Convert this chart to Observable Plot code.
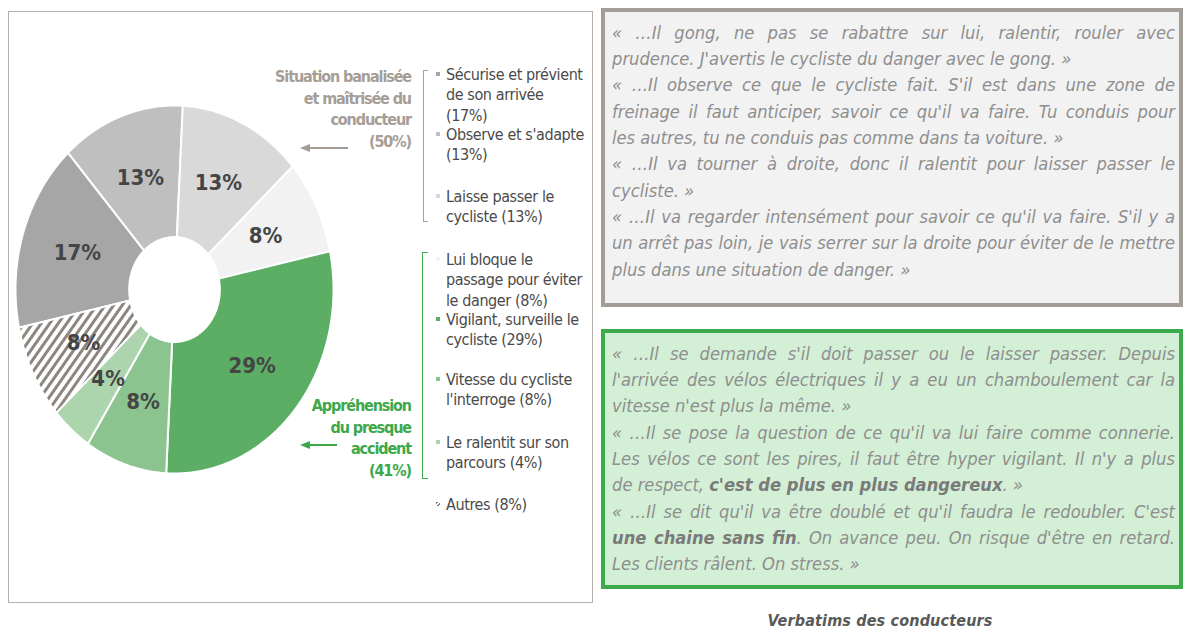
<!DOCTYPE html>
<html><head><meta charset="utf-8">
<script src="https://cdn.jsdelivr.net/npm/d3@7"></script>
<script src="https://cdn.jsdelivr.net/npm/@observablehq/plot@0.6"></script>
<style>
body{margin:0;width:1184px;height:631px;position:relative;overflow:hidden;background:#fff;}
.qline{position:absolute;left:0;white-space:nowrap;color:#8e8e8e;font-style:italic;}
.qline.j{text-align:justify;text-align-last:justify;}
.qline b{color:#7a7a7a;}
</style></head><body>
<div id="root"></div>
<script>
// ---------- DATA ----------
const categories = ["Sécurise et prévient de son arrivée","Observe et s'adapte","Laisse passer le cycliste","Lui bloque le passage pour éviter le danger","Vigilant, surveille le cycliste","Vitesse du cycliste l'interroge","Le ralentit sur son parcours","Autres"];
const counts = [4, 3, 3, 2, 7, 2, 1, 2];
const sliceColors = ["#a6a6a6","#bfbfbf","#d9d9d9","#f2f2f2","#5bae63","#8cc48f","#acd5ad","url(#hatch)"];
const legendLines = [["Sécurise et prévient","de son arrivée","(17%)"],["Observe et s'adapte","(13%)"],["Laisse passer le","cycliste (13%)"],["Lui bloque le","passage pour éviter","le danger (8%)"],["Vigilant, surveille le","cycliste (29%)"],["Vitesse du cycliste","l'interroge (8%)"],["Le ralentit sur son","parcours (4%)"],["Autres (8%)"]];
const groupLabels = [["Situation banalisée","et maîtrisée du","conducteur","(50%)"],["Appréhension","du presque","accident","(41%)"]];
const greyQuotes = [
 ["« …Il gong, ne pas se rabattre sur lui, ralentir, rouler avec","prudence. J'avertis le cycliste du danger avec le gong. »"],
 ["« …Il observe ce que le cycliste fait. S'il est dans une zone de","freinage il faut anticiper, savoir ce qu'il va faire. Tu conduis pour","les autres, tu ne conduis pas comme dans ta voiture. »"],
 ["« …Il va tourner à droite, donc il ralentit pour laisser passer le","cycliste. »"],
 ["« …Il va regarder intensément pour savoir ce qu'il va faire. S'il y a","un arrêt pas loin, je vais serrer sur la droite pour éviter de le mettre","plus dans une situation de danger. »"]
];
const greenQuotes = [
 ["« …Il se demande s'il doit passer ou le laisser passer. Depuis","l'arrivée des vélos électriques il y a eu un chamboulement car la","vitesse n'est plus la même. »"],
 ["« …Il se pose la question de ce qu'il va lui faire comme connerie.","Les vélos ce sont les pires, il faut être hyper vigilant. Il n'y a plus","de respect, **c'est de plus en plus dangereux**. »"],
 ["« …Il se dit qu'il va être doublé et qu'il faudra le redoubler. C'est","**une chaine sans fin**. On avance peu. On risque d'être en retard.","Les clients râlent. On stress. »"]
];
const caption = "Verbatims des conducteurs";

// ---------- FONTS ----------
const ctx = document.createElement("canvas").getContext("2d");
function has(f){const s="abcdefghijklmnopqrstuvwxyzABCDEFGH0123456789";ctx.font="20px monospace";const w0=ctx.measureText(s).width;ctx.font=`20px "${f}", monospace`;return Math.abs(ctx.measureText(s).width-w0)>0.5;}
const narrowName = ["Liberation Sans Narrow","Arial Narrow","DejaVu Sans Condensed"].find(has) || "Liberation Sans";
const NARROW = `"${narrowName}", "Liberation Sans", sans-serif`;
function measure(text, font){ctx.font = font; return ctx.measureText(text).width;}

const root = document.getElementById("root");
function el(tag, style, html, parent=root){const e=document.createElement(tag);e.setAttribute("style",style);if(html!=null)e.innerHTML=html;parent.appendChild(e);return e;}

// ---------- LEFT PANEL ----------
el("div","position:absolute;left:8px;top:11px;width:585px;height:592px;border:1.5px solid #b5afaa;box-sizing:border-box;");

const total = d3.sum(counts);
const start = 258 * Math.PI / 180;
const rows = categories.map((c,i)=>({cat:c,count:counts[i],fillColor:sliceColors[i]}));
const arcs = d3.pie().sort(null).value(d=>d.count).startAngle(start).endAngle(start+2*Math.PI)(rows);
const rIn = 0.285, rMid = (rIn+1)/2;
const pts = arcs.flatMap((a,i)=>{
  const n = Math.max(4, Math.ceil((a.endAngle-a.startAngle)/0.01)); const out=[];
  for(let k=0;k<=n;k++){const t=a.startAngle+(a.endAngle-a.startAngle)*k/n; out.push({i,fillColor:a.data.fillColor,x:Math.sin(t),y:Math.cos(t)});}
  for(let k=n;k>=0;k--){const t=a.startAngle+(a.endAngle-a.startAngle)*k/n; out.push({i,fillColor:a.data.fillColor,x:rIn*Math.sin(t),y:rIn*Math.cos(t)});}
  return out;
});
const mid = a => (a.startAngle+a.endAngle)/2;
const chart = Plot.plot({
  width: 600, height: 631, margin: 0,
  x: {domain: [-1,1], range: [15,333], axis: null},
  y: {domain: [-1,1], range: [473,105], axis: null},
  color: {type: "identity"},
  style: {background: "transparent"},
  marks: [
    Plot.line(pts, {x:"x", y:"y", z:"i", fill:"fillColor", stroke:"#fff", strokeWidth:2, strokeLinejoin:"round", curve:"linear-closed"}),
    Plot.text(arcs, {x: a=>rMid*Math.sin(mid(a)), y: a=>rMid*Math.cos(mid(a)), text: a=>Math.round(a.data.count/total*100)+"%", fontSize: 22, fontWeight: "bold", fill: "#454545", fontFamily: NARROW})
  ]
});
const defs = d3.select(chart).insert("defs", ":first-child");
const pat = defs.append("pattern").attr("id","hatch").attr("patternUnits","userSpaceOnUse").attr("width",7).attr("height",7).attr("patternTransform","rotate(35)");
pat.append("rect").attr("width",7).attr("height",7).attr("fill","#fff");
pat.append("rect").attr("width",3).attr("height",7).attr("fill","#8c8681");
const holder = el("div","position:absolute;left:0;top:0;width:600px;height:631px;");
holder.appendChild(chart);

// legend
const legendY = [75,135,197,260,320,380,443,505];
const lh = 20.5;
const fsL = 16;
const lsL = (137 - measure("Sécurise et prévient", `${fsL}px ${NARROW}`))/19;
legendLines.forEach((lines,i)=>{
  const y0 = legendY[i];
  const c = sliceColors[i];
  const bg = c.startsWith("url") ? "repeating-linear-gradient(135deg,#8c8681 0 1.5px,#fff 1.5px 3px)" : c;
  el("div",`position:absolute;left:436px;top:${y0-3.5}px;width:4px;height:4px;background:${bg};`);
  lines.forEach((t,k)=>{
    el("div",`position:absolute;left:446px;top:${y0+k*lh-lh/2}px;height:${lh}px;line-height:${lh}px;font:${fsL}px ${NARROW};letter-spacing:${lsL}px;color:#4a4a4a;white-space:nowrap;`, t);
  });
});
// brackets
el("div","position:absolute;left:423px;top:70px;width:5px;height:152px;border:1.5px solid #a8a19b;border-right:none;box-sizing:border-box;");
el("div","position:absolute;left:422px;top:252px;width:6px;height:227px;border:1.5px solid #3daa4b;border-right:none;box-sizing:border-box;");
// group labels
const fsG = 16;
const lsG = (137 - measure("Situation banalisée", `bold ${fsG}px ${NARROW}`))/18;
const groupColors = ["#a59d96","#3ca84a"], groupY = [78,407], glh = 21.4;
groupLabels.forEach((lines,g)=>{
  lines.forEach((t,k)=>{
    el("div",`position:absolute;right:${1184-411}px;top:${groupY[g]+k*glh-glh/2}px;line-height:${glh}px;font:bold ${fsG}px ${NARROW};letter-spacing:${lsG}px;color:${groupColors[g]};white-space:nowrap;text-align:right;`, t);
  });
});
// arrows
function arrow(x0,x1,y,color){
  el("div",`position:absolute;left:${x0+8}px;top:${y-1}px;width:${x1-x0-8}px;height:2px;background:${color};`);
  el("div",`position:absolute;left:${x0}px;top:${y-4.5}px;width:0;height:0;border-top:4.5px solid transparent;border-bottom:4.5px solid transparent;border-right:10px solid ${color};`);
}
arrow(300,348,148,"#a39c96");
arrow(300,337,445,"#3ca84a");

// ---------- QUOTE BOXES ----------
el("div","position:absolute;left:601px;top:8px;width:582px;height:299px;border:4px solid #a39d98;background:#f2f2f2;box-sizing:border-box;");
el("div","position:absolute;left:601px;top:329px;width:582px;height:260px;border:4px solid #3dab4b;background:#d3efd5;box-sizing:border-box;");
const fsQ = 18;
const qFont = `italic ${fsQ}px ${NARROW}`;
const plain = t => t.replace(/\*\*/g,"");
const justW = [...greyQuotes, ...greenQuotes].flatMap(p => p.slice(0,-1)).map(t => measure(plain(t), qFont));
const sx = 557 / d3.max(justW);
const qW = 563 / sx, qlh = 26.3;
function quoteBox(paras, top){
  const box = el("div",`position:absolute;left:612px;top:${top}px;width:${qW}px;transform:scaleX(${sx});transform-origin:0 0;font:${qFont};`);
  let k=0;
  paras.forEach(lines=>lines.forEach((t,j)=>{
    const html = t.replace(/\*\*(.+?)\*\*/g,"<b>$1</b>");
    const d = el("div",`top:${k*qlh}px;width:${qW}px;height:${qlh}px;line-height:${qlh}px;`, html, box);
    d.className = "qline" + (j<lines.length-1 ? " j" : "");
    k++;
  }));
}
quoteBox(greyQuotes, 33-qlh/2);
quoteBox(greenQuotes, 354-qlh/2);

// caption
const capFont = `italic bold 16px ${NARROW}`;
const lsC = (225 - measure(caption, capFont))/24;
el("div",`position:absolute;left:0;width:1760px;top:611px;line-height:20px;text-align:center;font:${capFont};letter-spacing:${lsC}px;color:#595959;white-space:nowrap;`, caption);
</script>
</body></html>
